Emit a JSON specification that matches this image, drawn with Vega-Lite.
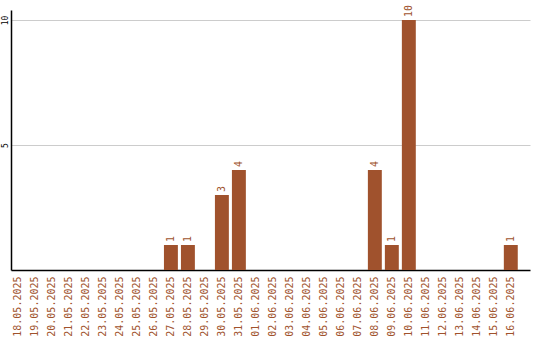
{
  "$schema": "https://vega.github.io/schema/vega-lite/v6.json",
  "autosize": {"type": "none"},
  "padding": {"left": 11, "top": 10, "right": 10, "bottom": 70},
  "width": 519,
  "height": 260,
  "background": "white",
  "config": {
    "view": {"stroke": null},
    "font": "DejaVu Sans Mono"
  },
  "data": {
    "values": [
      {"date": "18.05.2025", "count": 0},
      {"date": "19.05.2025", "count": 0},
      {"date": "20.05.2025", "count": 0},
      {"date": "21.05.2025", "count": 0},
      {"date": "22.05.2025", "count": 0},
      {"date": "23.05.2025", "count": 0},
      {"date": "24.05.2025", "count": 0},
      {"date": "25.05.2025", "count": 0},
      {"date": "26.05.2025", "count": 0},
      {"date": "27.05.2025", "count": 1},
      {"date": "28.05.2025", "count": 1},
      {"date": "29.05.2025", "count": 0},
      {"date": "30.05.2025", "count": 3},
      {"date": "31.05.2025", "count": 4},
      {"date": "01.06.2025", "count": 0},
      {"date": "02.06.2025", "count": 0},
      {"date": "03.06.2025", "count": 0},
      {"date": "04.06.2025", "count": 0},
      {"date": "05.06.2025", "count": 0},
      {"date": "06.06.2025", "count": 0},
      {"date": "07.06.2025", "count": 0},
      {"date": "08.06.2025", "count": 4},
      {"date": "09.06.2025", "count": 1},
      {"date": "10.06.2025", "count": 10},
      {"date": "11.06.2025", "count": 0},
      {"date": "12.06.2025", "count": 0},
      {"date": "13.06.2025", "count": 0},
      {"date": "14.06.2025", "count": 0},
      {"date": "15.06.2025", "count": 0},
      {"date": "16.06.2025", "count": 1}
    ]
  },
  "encoding": {
    "x": {
      "field": "date",
      "type": "nominal",
      "sort": null,
      "scale": {"paddingInner": 0.18, "paddingOuter": 0.36, "align": 0},
      "axis": {
        "title": null,
        "labelAngle": 270,
        "labelAlign": "right",
        "labelBaseline": "middle",
        "labelColor": "#a0522d",
        "labelFontSize": 10,
        "labelFont": "DejaVu Sans Mono",
        "labelPadding": 6,
        "ticks": false,
        "domainColor": "black",
        "domainWidth": 1.5,
        "grid": false
      }
    },
    "y": {
      "field": "count",
      "type": "quantitative",
      "scale": {"domain": [0, 10.4], "nice": false},
      "axis": {
        "title": null,
        "values": [5, 10],
        "ticks": false,
        "labelAngle": 270,
        "labelAlign": "center",
        "labelBaseline": "bottom",
        "labelPadding": 2,
        "labelFontSize": 8,
        "labelColor": "black",
        "labelFont": "DejaVu Sans Mono",
        "domainColor": "black",
        "domainWidth": 1.5,
        "gridColor": "#cccccc",
        "gridWidth": 1
      }
    }
  },
  "layer": [
    {"mark": {"type": "bar", "color": "#a0522d"}},
    {
      "transform": [{"filter": "datum.count > 0"}],
      "mark": {
        "type": "text",
        "angle": 270,
        "align": "left",
        "baseline": "middle",
        "dx": 3,
        "fontSize": 10,
        "color": "#a0522d",
        "font": "DejaVu Sans Mono"
      },
      "encoding": {"text": {"field": "count", "type": "quantitative"}}
    }
  ]
}
